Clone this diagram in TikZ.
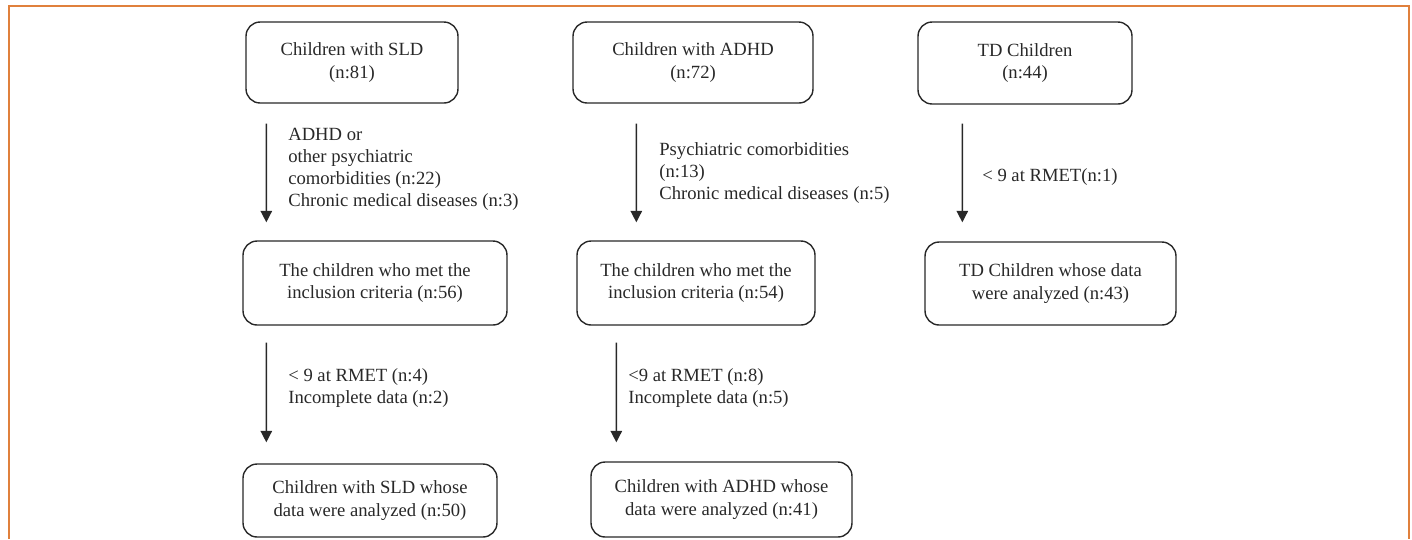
\documentclass[tikz,border=0pt]{standalone}
\usepackage{fontspec}
\setmainfont{Liberation Serif}
\usetikzlibrary{arrows.meta,calc}
\definecolor{frameorange}{RGB}{224,128,60}
\definecolor{inkgray}{RGB}{40,40,40}
\begin{document}
\begin{tikzpicture}[x=0.02cm, y=-0.02cm, font=\fontsize{10.6}{13}\selectfont, text=inkgray,
          box/.style = {draw=inkgray, line width=0.8pt, rounded corners=8pt, align=center, inner sep=0pt},
          note/.style = {align=left, anchor=west, inner sep=0pt, font=\fontsize{10.6}{12.5}\selectfont},
          arr/.style = {draw=inkgray, line width=0.8pt, -{Triangle[length=6.5pt, width=6.5pt]}}]
          \useasboundingbox (0,0) rectangle (1412,539);
          % frame, open at the bottom
          \draw[frameorange, line width=1.1pt] (9,539) -- (9,6) -- (1409,6) -- (1409,539);
          % first row
          \node[box, minimum width=4.24cm, minimum height=1.62cm] (sld1) at (352, 62.5) {Children with SLD\\(n:81)};
          \node[box, minimum width=4.8cm, minimum height=1.62cm] (adhd1) at (693, 62.5) {Children with ADHD\\(n:72)};
          \node[box, minimum width=4.28cm, minimum height=1.64cm] (td1) at (1025, 63) {TD Children\\(n:44)};
          % second row
          \node[box, minimum width=5.28cm, minimum height=1.68cm] (sld2) at (375, 283) {The children who met the\\inclusion criteria (n:56)};
          \node[box, minimum width=4.76cm, minimum height=1.68cm] (adhd2) at (696, 283) {The children who met the\\inclusion criteria (n:54)};
          \node[box, minimum width=5.02cm, minimum height=1.66cm] (td2) at (1050.5, 283.5) {TD Children whose data\\were analyzed (n:43)};
          % third row
          \node[box, minimum width=5.08cm, minimum height=1.46cm] (sld3) at (370, 500.5) {Children with SLD whose\\data were analyzed (n:50)};
          \node[box, minimum width=5.22cm, minimum height=1.5cm] (adhd3) at (721.5, 499.5) {Children with ADHD whose\\data were analyzed (n:41)};
          % exclusions
          \draw[arr] ($(sld1.south west)+(21,20)$) -- ($(sld2.north west)+(24,-18)$);
          \draw[arr] ($(adhd1.south west)+(64,20)$) -- ($(adhd2.north west)+(60,-18)$);
          \draw[arr] ($(td1.south west)+(45,19)$) -- ($(td2.north west)+(38,-19)$);
          \draw[arr] ($(sld2.south west)+(24,17)$) -- ($(sld3.north west)+(24,-21)$);
          \draw[arr] ($(adhd2.south west)+(40,17)$) -- ($(adhd3.north west)+(26,-19)$);
          \node[note] (sldx1) at (288, 169) {ADHD or\\other psychiatric\\comorbidities (n:22)\\Chronic medical diseases (n:3)};
          \node[note] (adhdx1) at (659, 173) {Psychiatric comorbidities\\(n:13)\\Chronic medical diseases (n:5)};
          \node[note] (tdx1) at (982, 177) {< 9 at RMET(n:1)};
          \node[note] (sldx2) at (288, 388) {< 9 at RMET (n:4)\\Incomplete data (n:2)};
          \node[note] (adhdx2) at (628, 388) {<9 at RMET (n:8)\\Incomplete data (n:5)};
        \end{tikzpicture}
\end{document}
